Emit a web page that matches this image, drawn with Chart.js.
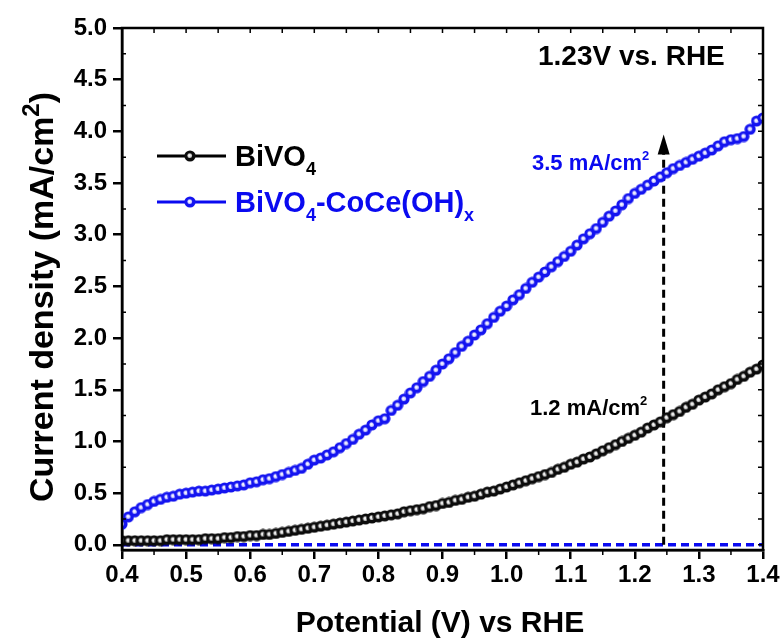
<!DOCTYPE html>
<html>
<head>
<meta charset="utf-8">
<script src="https://cdn.jsdelivr.net/npm/chart.js@4.4.1/dist/chart.umd.min.js"></script>
<style>
  html, body { margin: 0; padding: 0; background: #fff; }
  #wrap { width: 784px; height: 639px; position: relative; }
</style>
</head>
<body>
<div id="wrap"><canvas id="chart" width="784" height="639"></canvas></div>
<script>
// potential (V vs RHE), one reading every 10 mV
const potential = [
  0.40, 0.41, 0.42, 0.43, 0.44, 0.45, 0.46, 0.47, 0.48, 0.49,
  0.50, 0.51, 0.52, 0.53, 0.54, 0.55, 0.56, 0.57, 0.58, 0.59,
  0.60, 0.61, 0.62, 0.63, 0.64, 0.65, 0.66, 0.67, 0.68, 0.69,
  0.70, 0.71, 0.72, 0.73, 0.74, 0.75, 0.76, 0.77, 0.78, 0.79,
  0.80, 0.81, 0.82, 0.83, 0.84, 0.85, 0.86, 0.87, 0.88, 0.89,
  0.90, 0.91, 0.92, 0.93, 0.94, 0.95, 0.96, 0.97, 0.98, 0.99,
  1.00, 1.01, 1.02, 1.03, 1.04, 1.05, 1.06, 1.07, 1.08, 1.09,
  1.10, 1.11, 1.12, 1.13, 1.14, 1.15, 1.16, 1.17, 1.18, 1.19,
  1.20, 1.21, 1.22, 1.23, 1.24, 1.25, 1.26, 1.27, 1.28, 1.29,
  1.30, 1.31, 1.32, 1.33, 1.34, 1.35, 1.36, 1.37, 1.38, 1.39,
  1.40
];

// current density (mA/cm2)
const bivo4 = [
  0.04, 0.04, 0.04, 0.04, 0.04, 0.04, 0.04, 0.05, 0.05, 0.05,
  0.05, 0.05, 0.05, 0.06, 0.06, 0.06, 0.07, 0.07, 0.08, 0.08,
  0.09, 0.09, 0.10, 0.10, 0.11, 0.12, 0.13, 0.14, 0.15, 0.16,
  0.17, 0.18, 0.19, 0.20, 0.21, 0.22, 0.23, 0.24, 0.25, 0.26,
  0.27, 0.28, 0.29, 0.30, 0.32, 0.33, 0.34, 0.35, 0.37, 0.38,
  0.40, 0.41, 0.43, 0.44, 0.46, 0.47, 0.49, 0.51, 0.52, 0.54,
  0.56, 0.58, 0.60, 0.62, 0.64, 0.66, 0.68, 0.70, 0.73, 0.75,
  0.78, 0.80, 0.83, 0.85, 0.88, 0.91, 0.94, 0.97, 1.00, 1.03,
  1.06, 1.09, 1.13, 1.16, 1.19, 1.23, 1.26, 1.29, 1.33, 1.36,
  1.40, 1.43, 1.46, 1.50, 1.53, 1.56, 1.60, 1.63, 1.67, 1.70,
  1.74
];

const bivo4Coce = [
  0.20, 0.27, 0.32, 0.36, 0.39, 0.42, 0.44, 0.46, 0.47, 0.49,
  0.50, 0.51, 0.52, 0.52, 0.53, 0.54, 0.55, 0.56, 0.57, 0.58,
  0.60, 0.61, 0.63, 0.64, 0.66, 0.68, 0.70, 0.72, 0.74, 0.78,
  0.82, 0.84, 0.87, 0.90, 0.94, 0.98, 1.02, 1.07, 1.11, 1.16,
  1.20, 1.22, 1.30, 1.35, 1.41, 1.47, 1.52, 1.58, 1.63, 1.69,
  1.75, 1.80, 1.86, 1.92, 1.97, 2.03, 2.08, 2.14, 2.20, 2.26,
  2.31, 2.37, 2.42, 2.48, 2.54, 2.59, 2.64, 2.69, 2.74, 2.79,
  2.84, 2.90, 2.96, 3.01, 3.06, 3.12, 3.18, 3.23, 3.29, 3.35,
  3.40, 3.44, 3.48, 3.52, 3.56, 3.60, 3.64, 3.67, 3.70, 3.73,
  3.76, 3.79, 3.82, 3.86, 3.90, 3.92, 3.93, 3.95, 4.02, 4.10,
  4.13
];

const xTicks = [0.4, 0.5, 0.6, 0.7, 0.8, 0.9, 1.0, 1.1, 1.2, 1.3, 1.4];
const yTicks = [0.0, 0.5, 1.0, 1.5, 2.0, 2.5, 3.0, 3.5, 4.0, 4.5, 5.0];

const markPotential = 1.245;   // dashed arrow position
const arrowTop = 3.97;

const FONT = "'Liberation Sans', Arial, sans-serif";
const BLUE = "#0a0af0";

// little shaded ball used as marker
function ball(edge, core) {
  const c = document.createElement("canvas");
  c.width = 12; c.height = 12;
  const g = c.getContext("2d");
  g.beginPath(); g.arc(6, 6, 5.6, 0, Math.PI * 2);
  g.fillStyle = edge; g.fill();
  const grad = g.createRadialGradient(5.2, 5.2, 0.2, 6, 6, 3);
  grad.addColorStop(0, "#ffffff");
  grad.addColorStop(1, core);
  g.beginPath(); g.arc(5.7, 5.7, 2.4, 0, Math.PI * 2);
  g.fillStyle = grad; g.fill();
  return c;
}
const blackBall = ball("#0c0c0c", "#a8a8a8");
const blueBall = ball("#1414f0", "#aaaaff");

function pts(ys) { return potential.map((x, i) => ({ x: x, y: ys[i] })); }

// text with sub/superscript pieces: [[text, size, dy]]
function richText(ctx, parts, x, y, color) {
  ctx.fillStyle = color;
  ctx.textBaseline = "alphabetic";
  ctx.textAlign = "left";
  let cx = x;
  parts.forEach(p => {
    ctx.font = "bold " + p[1] + "px " + FONT;
    ctx.fillText(p[0], cx, y + p[2]);
    cx += ctx.measureText(p[0]).width;
  });
  return cx - x;
}
function richWidth(ctx, parts) {
  let w = 0;
  parts.forEach(p => { ctx.font = "bold " + p[1] + "px " + FONT; w += ctx.measureText(p[0]).width; });
  return w;
}

const decor = {
  id: "decor",
  beforeDatasetsDraw(chart) {
    const ctx = chart.ctx, xs = chart.scales.x, ys = chart.scales.y;
    ctx.save();
    // blue dashed zero line
    ctx.strokeStyle = BLUE; ctx.lineWidth = 3.5; ctx.setLineDash([8, 5]);
    ctx.beginPath();
    ctx.moveTo(xs.getPixelForValue(0.4), ys.getPixelForValue(0));
    ctx.lineTo(xs.getPixelForValue(1.4), ys.getPixelForValue(0));
    ctx.stroke();
    // black dashed vertical line with arrow
    const ax = xs.getPixelForValue(markPotential);
    const tip = ys.getPixelForValue(arrowTop);
    ctx.strokeStyle = "#000"; ctx.lineWidth = 3; ctx.setLineDash([8, 5]);
    ctx.beginPath();
    ctx.moveTo(ax, ys.getPixelForValue(0));
    ctx.lineTo(ax, tip + 16);
    ctx.stroke();
    ctx.setLineDash([]);
    ctx.fillStyle = "#000";
    ctx.beginPath();
    ctx.moveTo(ax, tip); ctx.lineTo(ax - 6, tip + 20); ctx.lineTo(ax + 6, tip + 20);
    ctx.closePath(); ctx.fill();
    ctx.restore();
  },
  afterDraw(chart) {
    const ctx = chart.ctx, xs = chart.scales.x, ys = chart.scales.y;
    const a = chart.chartArea;
    ctx.save();
    // frame
    ctx.strokeStyle = "#000"; ctx.lineWidth = 2.5;
    ctx.strokeRect(a.left, a.top, a.right - a.left, a.bottom - a.top);
    // inward ticks on top (every 0.05) and right (every 0.25), minor ticks on left/bottom
    ctx.lineWidth = 1.5;
    ctx.beginPath();
    for (let k = 0; k <= 20; k++) {
      const v = 0.4 + k * 0.05;
      const px = xs.getPixelForValue(v);
      ctx.moveTo(px, a.top); ctx.lineTo(px, a.top + 5);
      if (k % 2 === 1) { ctx.moveTo(px, a.bottom); ctx.lineTo(px, a.bottom + 5); }
    }
    for (let k = 0; k <= 20; k++) {
      const v = k * 0.25;
      const py = ys.getPixelForValue(v);
      ctx.moveTo(a.right, py); ctx.lineTo(a.right - 5, py);
      if (k % 2 === 1) { ctx.moveTo(a.left, py); ctx.lineTo(a.left + 4, py); }
    }
    ctx.stroke();

    // axis titles
    const xt = [["Potential (V) vs RHE", 30, 0]];
    richText(ctx, xt, 440 - richWidth(ctx, xt) / 2, 632, "#000");
    const yt = [["Current density (mA/cm", 34, 0], ["2", 24, -14], [")", 34, 0]];
    ctx.save();
    ctx.translate(53, 297);
    ctx.rotate(-Math.PI / 2);
    richText(ctx, yt, -richWidth(ctx, yt) / 2, 0, "#000");
    ctx.restore();

    // annotations
    richText(ctx, [["1.23V vs. RHE", 28, 0]], 538, 65, "#000");
    richText(ctx, [["3.5 mA/cm", 22, 0], ["2", 13, -10]], 532, 170, BLUE);
    richText(ctx, [["1.2 mA/cm", 22, 0], ["2", 13, -10]], 530, 415, "#000");

    // legend
    const rows = [
      { y: 156, color: "#000", img: blackBall, parts: [["BiVO", 29, 0], ["4", 18, 9]] },
      { y: 202, color: BLUE, img: blueBall, parts: [["BiVO", 29, 0], ["4", 18, 9], ["-CoCe(OH)", 29, 0], ["x", 18, 9]] }
    ];
    rows.forEach(r => {
      ctx.strokeStyle = r.color; ctx.lineWidth = 3;
      ctx.beginPath(); ctx.moveTo(157, r.y); ctx.lineTo(226, r.y); ctx.stroke();
      ctx.drawImage(r.img, 184, r.y - 6);
      richText(ctx, r.parts, 235, r.y + 10, r.color);
    });
    ctx.restore();
  }
};

new Chart(document.getElementById("chart"), {
  type: "line",
  data: {
    datasets: [
      {
        label: "BiVO4",
        data: pts(bivo4),
        borderColor: "#000",
        borderWidth: 3,
        pointStyle: blackBall,
        pointRadius: 6,
        tension: 0
      },
      {
        label: "BiVO4-CoCe(OH)x",
        data: pts(bivo4Coce),
        borderColor: BLUE,
        borderWidth: 3,
        pointStyle: blueBall,
        pointRadius: 6,
        tension: 0
      }
    ]
  },
  options: {
    responsive: false,
    animation: false,
    events: [],
    layout: { padding: { left: 0, top: 28, right: 21, bottom: 0 } },
    plugins: { legend: { display: false }, tooltip: { enabled: false } },
    scales: {
      x: {
        type: "linear",
        min: 0.4, max: 1.4,
        afterBuildTicks: s => { s.ticks = xTicks.map(v => ({ value: v })); },
        afterFit: s => { s.height = 89; },
        ticks: {
          color: "#000",
          font: { family: FONT, size: 24, weight: "bold" },
          padding: 2,
          maxRotation: 0,
          callback: v => v.toFixed(1)
        },
        grid: { drawOnChartArea: false, drawTicks: true, tickLength: 9, color: "#000", lineWidth: 2.5 },
        border: { color: "#000", width: 2.5 }
      },
      y: {
        min: -0.05, max: 5.0,
        afterBuildTicks: s => { s.ticks = yTicks.map(v => ({ value: v })); },
        afterFit: s => { s.width = 122; },
        ticks: {
          color: "#000",
          font: { family: FONT, size: 24, weight: "bold" },
          padding: 6,
          callback: v => v.toFixed(1)
        },
        grid: { drawOnChartArea: false, drawTicks: true, tickLength: 9, color: "#000", lineWidth: 2.5 },
        border: { color: "#000", width: 2.5 }
      }
    }
  },
  plugins: [decor]
});
</script>
</body>
</html>
